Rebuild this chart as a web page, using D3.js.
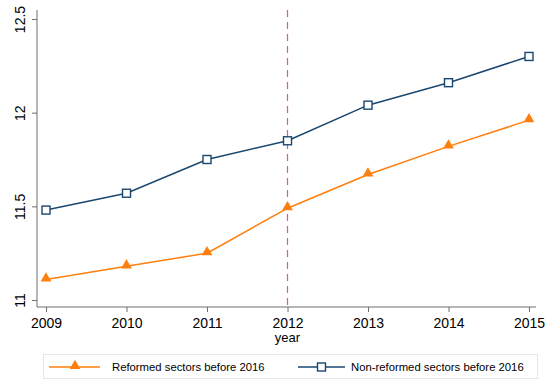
<!DOCTYPE html>
<html>
<head>
<meta charset="utf-8">
<script src="https://cdn.jsdelivr.net/npm/d3@7"></script>
<style>
  body { margin: 0; background: #fff; }
  text { font-family: "Liberation Sans", Arial, sans-serif; fill: #000; }
</style>
</head>
<body>
<div id="chart"></div>
<script>
const years = [2009, 2010, 2011, 2012, 2013, 2014, 2015];
const reformed = [11.11, 11.18, 11.25, 11.49, 11.67, 11.82, 11.96];
const nonReformed = [11.48, 11.57, 11.75, 11.85, 12.04, 12.16, 12.30];
const yTicks = [11, 11.5, 12, 12.5];
const seriesNames = ["Reformed sectors before 2016", "Non-reformed sectors before 2016"];
const markYear = 2012;

const width = 556, height = 380;
const orange = "#ff7f0e", navy = "#1a476f";

const svg = d3.select("#chart").append("svg")
  .attr("width", width)
  .attr("height", height);

const x = d3.scaleLinear().domain([2009, 2015]).range([46, 529]);
const y = d3.scaleLinear().domain([11, 12.5]).range([300, 19]);

// axes
const xAxis = svg.append("g")
  .attr("transform", "translate(0,307)")
  .call(d3.axisBottom(x).tickValues(years).tickFormat(d3.format("d")).tickSize(5).tickSizeOuter(0));
xAxis.select(".domain").attr("d", "M37,0H536");

const yAxis = svg.append("g")
  .attr("transform", "translate(37,0)")
  .call(d3.axisLeft(y).tickValues(yTicks).tickFormat(d => d).tickSize(5).tickSizeOuter(0));
yAxis.select(".domain").attr("d", "M0,10V307");

svg.selectAll(".domain, .tick line").attr("stroke", "#6e6e6e");
xAxis.selectAll(".tick text")
  .attr("font-size", 14).attr("y", 11).attr("dy", "0.71em")
  .style("font-family", "Liberation Sans, Arial, sans-serif");
yAxis.selectAll(".tick text")
  .attr("font-size", 14)
  .attr("text-anchor", "middle")
  .attr("transform", "translate(-17,0) rotate(-90)")
  .attr("x", 0).attr("dy", "0.35em")
  .style("font-family", "Liberation Sans, Arial, sans-serif");
svg.selectAll(".tick text").attr("fill", "#000");

svg.append("text")
  .attr("x", x(markYear)).attr("y", 342)
  .attr("text-anchor", "middle")
  .attr("font-size", 13)
  .text("year");

// reference line
svg.append("line")
  .attr("x1", x(markYear)).attr("x2", x(markYear))
  .attr("y1", 10).attr("y2", 307)
  .attr("stroke", "#ec5580")
  .attr("stroke-width", 1.2)
  .attr("stroke-dasharray", "7,5");

const line = d3.line().x((d, i) => x(years[i])).y(d => y(d));

svg.append("path").datum(nonReformed)
  .attr("d", line).attr("fill", "none")
  .attr("stroke", navy).attr("stroke-width", 1.5);
svg.append("path").datum(reformed)
  .attr("d", line).attr("fill", "none")
  .attr("stroke", orange).attr("stroke-width", 1.5);

const tri = d3.symbol().type(d3.symbolTriangle).size(50);

svg.selectAll(".sq").data(nonReformed).join("rect")
  .attr("x", (d, i) => x(years[i]) - 4)
  .attr("y", d => y(d) - 4)
  .attr("width", 8).attr("height", 8)
  .attr("fill", "#fff").attr("stroke", navy).attr("stroke-width", 1.4);

svg.selectAll(".tri").data(reformed).join("path")
  .attr("d", tri)
  .attr("transform", (d, i) => `translate(${x(years[i])},${y(d) - 1})`)
  .attr("fill", orange);

// legend
svg.append("rect")
  .attr("x", 43.5).attr("y", 354.5)
  .attr("width", 494).attr("height", 24)
  .attr("fill", "#fff").attr("stroke", "#e6e6e6");

const lg = svg.append("g");
lg.append("line").attr("x1", 49).attr("x2", 100).attr("y1", 367).attr("y2", 367)
  .attr("stroke", orange).attr("stroke-width", 1.5);
lg.append("path").attr("d", tri).attr("transform", "translate(75,366)").attr("fill", orange);
lg.append("text").attr("x", 112).attr("y", 371).attr("font-size", 11.3).text(seriesNames[0]);

lg.append("line").attr("x1", 298).attr("x2", 345).attr("y1", 367).attr("y2", 367)
  .attr("stroke", navy).attr("stroke-width", 1.5);
lg.append("rect").attr("x", 317.5).attr("y", 363).attr("width", 8).attr("height", 8)
  .attr("fill", "#fff").attr("stroke", navy).attr("stroke-width", 1.4);
lg.append("text").attr("x", 351).attr("y", 371).attr("font-size", 11.3).text(seriesNames[1]);
</script>
</body>
</html>
